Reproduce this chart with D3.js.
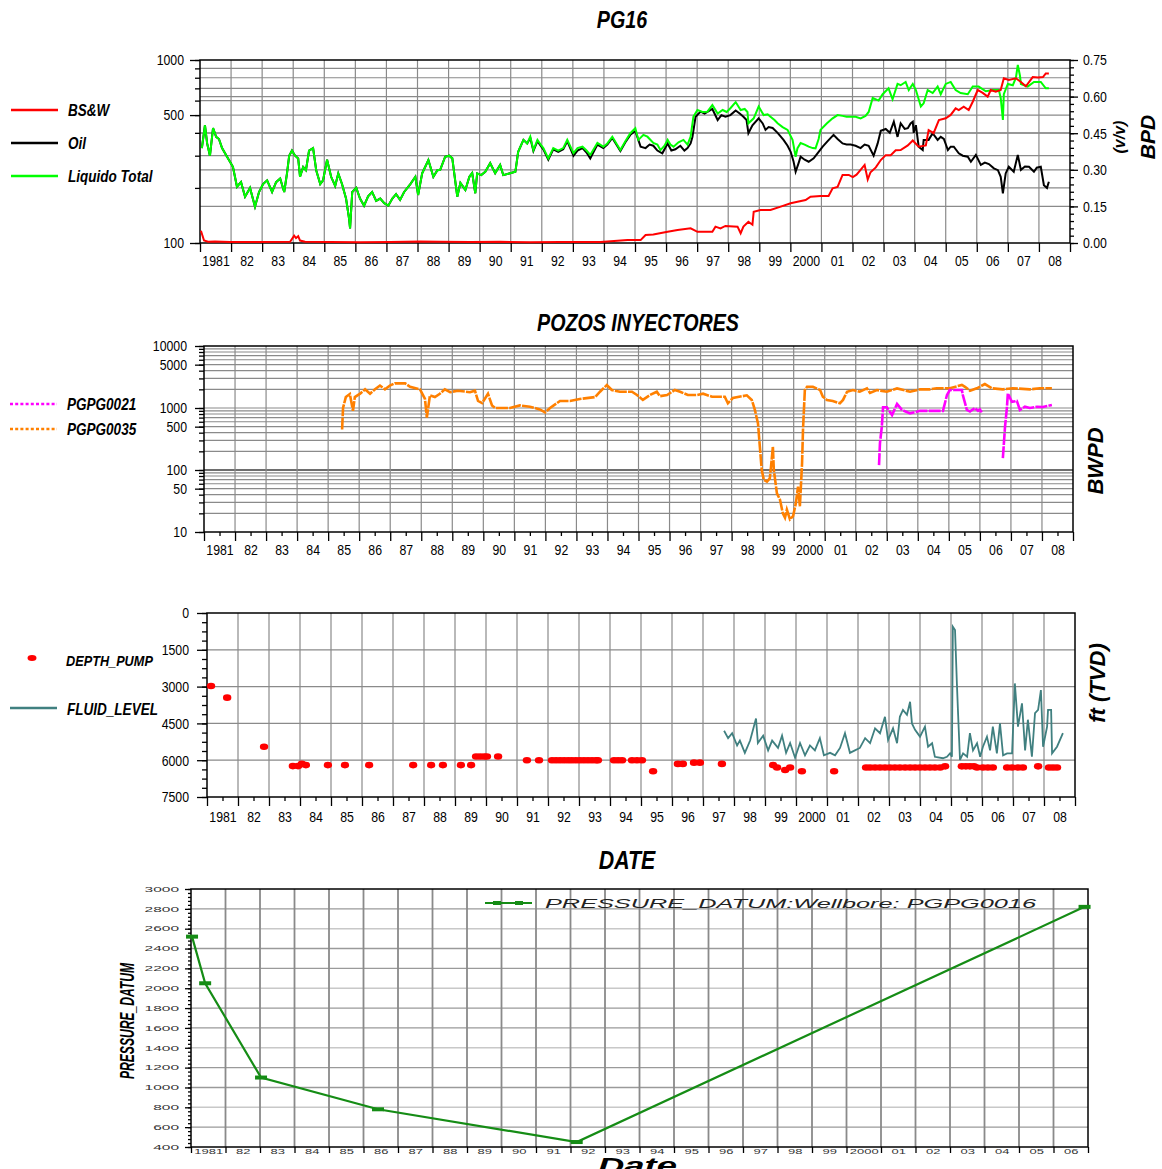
<!DOCTYPE html>
<html><head><meta charset="utf-8">
<script src="https://cdn.jsdelivr.net/npm/d3@7"></script>
<style>body{margin:0;background:#fff}svg{display:block}</style>
</head><body>
<svg id="chart" width="1162" height="1169"></svg>
<script>
// ---------- PG16 production (BPD, log) and water cut (v/v) ----------
const liquidoTotal = [
[1981.06,330],[1981.16,440],[1981.23,350],[1981.32,300],[1981.42,425],[1981.52,380],[1981.61,370],[1981.71,330],[1981.87,296],
[1982.06,261],[1982.19,203],[1982.32,215],[1982.45,179],[1982.61,200],[1982.77,158],[1982.90,190],[1983.03,210],[1983.16,220],
[1983.32,190],[1983.45,215],[1983.58,225],[1983.71,190],[1983.80,240],[1983.87,300],[1983.96,320],[1984.06,300],[1984.16,290],
[1984.22,230],[1984.32,260],[1984.41,250],[1984.51,320],[1984.64,330],[1984.74,250],[1984.87,210],[1984.96,220],[1985.09,285],
[1985.22,230],[1985.35,205],[1985.45,240],[1985.57,210],[1985.70,175],[1985.80,135],[1985.83,120],[1985.90,190],[1986.03,200],
[1986.15,175],[1986.28,160],[1986.41,180],[1986.54,190],[1986.67,170],[1986.80,175],[1986.93,165],[1987.06,160],[1987.19,175],
[1987.31,185],[1987.44,172],[1987.57,190],[1987.77,210],[1987.93,230],[1988.02,183],[1988.15,240],[1988.25,261],[1988.35,284],
[1988.51,230],[1988.64,250],[1988.73,251],[1988.89,296],[1989.02,300],[1989.12,290],[1989.28,179],[1989.38,213],[1989.54,195],
[1989.67,230],[1989.76,241],[1989.86,187],[1989.92,240],[1990.05,235],[1990.18,245],[1990.34,273],[1990.50,241],[1990.66,267],
[1990.76,235],[1990.95,240],[1991.15,245],[1991.24,315],[1991.41,366],[1991.53,350],[1991.63,381],[1991.73,322],[1991.86,366],
[1991.99,340],[1992.05,330],[1992.21,290],[1992.37,330],[1992.53,320],[1992.69,330],[1992.82,366],[1993.02,310],[1993.15,330],
[1993.31,336],[1993.44,320],[1993.56,303],[1993.79,352],[1993.98,336],[1994.11,350],[1994.27,381],[1994.40,350],[1994.53,322],
[1994.69,360],[1994.85,398],[1995.01,424],[1995.11,366],[1995.27,390],[1995.40,381],[1995.59,352],[1995.72,345],[1995.82,322],
[1995.95,340],[1996.05,366],[1996.14,345],[1996.24,336],[1996.40,355],[1996.56,366],[1996.69,345],[1996.79,381],[1996.88,490],
[1997.01,533],[1997.17,520],[1997.33,522],[1997.49,567],[1997.66,510],[1997.82,533],[1997.95,520],[1998.07,545],[1998.24,589],
[1998.40,533],[1998.53,540],[1998.62,520],[1998.65,451],[1998.82,480],[1998.98,557],[1999.14,500],[1999.27,505],[1999.36,490],
[1999.49,470],[1999.59,451],[1999.75,430],[1999.91,415],[2000.07,366],[2000.17,296],[2000.23,330],[2000.33,352],[2000.46,345],
[2000.59,336],[2000.72,330],[2000.81,329],[2000.91,370],[2000.97,415],[2001.17,450],[2001.36,480],[2001.52,500],[2001.68,495],
[2001.81,490],[2001.94,490],[2002.10,490],[2002.26,480],[2002.42,495],[2002.52,520],[2002.65,620],[2002.84,600],[2002.97,650],
[2003.16,700],[2003.29,610],[2003.45,740],[2003.55,728],[2003.71,759],[2003.81,685],[2003.94,740],[2004.04,685],[2004.20,557],
[2004.29,580],[2004.42,685],[2004.58,660],[2004.74,716],[2004.84,650],[2005.00,740],[2005.16,759],[2005.32,685],[2005.48,660],
[2005.71,650],[2005.87,716],[2006.06,716],[2006.29,675],[2006.52,685],[2006.71,685],[2006.77,620],[2006.84,470],[2006.87,650],
[2007.00,740],[2007.16,728],[2007.26,800],[2007.32,939],[2007.39,820],[2007.42,740],[2007.64,716],[2007.84,759],[2008.06,759],
[2008.22,700],[2008.32,700]];

const oil = [
[1981.06,330],[1981.16,440],[1981.23,350],[1981.32,300],[1981.42,425],[1981.52,380],[1981.61,370],[1981.71,330],[1981.87,296],
[1982.06,261],[1982.19,203],[1982.32,215],[1982.45,179],[1982.61,200],[1982.77,158],[1982.90,190],[1983.03,210],[1983.16,220],
[1983.32,190],[1983.45,215],[1983.58,225],[1983.71,190],[1983.80,240],[1983.87,300],[1983.96,320],[1984.06,300],[1984.16,290],
[1984.22,230],[1984.32,260],[1984.41,250],[1984.51,320],[1984.64,330],[1984.74,250],[1984.87,210],[1984.96,220],[1985.09,285],
[1985.22,230],[1985.35,205],[1985.45,240],[1985.57,210],[1985.70,175],[1985.80,135],[1985.83,120],[1985.90,190],[1986.03,200],
[1986.15,175],[1986.28,160],[1986.41,180],[1986.54,190],[1986.67,170],[1986.80,175],[1986.93,165],[1987.06,160],[1987.19,175],
[1987.31,185],[1987.44,172],[1987.57,190],[1987.77,210],[1987.93,230],[1988.02,183],[1988.15,240],[1988.25,261],[1988.35,284],
[1988.51,230],[1988.64,250],[1988.73,251],[1988.89,296],[1989.02,300],[1989.12,290],[1989.28,179],[1989.38,213],[1989.54,195],
[1989.67,230],[1989.76,241],[1989.86,187],[1989.92,240],[1990.05,235],[1990.18,245],[1990.34,273],[1990.50,241],[1990.66,267],
[1990.76,235],[1990.95,240],[1991.15,245],[1991.24,315],[1991.41,366],[1991.53,350],[1991.63,375],[1991.73,318],[1991.86,360],
[1991.99,335],[1992.05,325],[1992.21,285],[1992.37,325],[1992.53,315],[1992.69,325],[1992.82,360],[1993.02,300],[1993.15,320],
[1993.31,330],[1993.44,312],[1993.56,290],[1993.79,345],[1993.98,330],[1994.11,345],[1994.27,375],[1994.40,345],[1994.53,318],
[1994.69,355],[1994.85,390],[1995.01,410],[1995.18,336],[1995.34,330],[1995.47,345],[1995.59,340],[1995.72,320],[1995.88,309],
[1996.05,350],[1996.17,320],[1996.30,325],[1996.46,340],[1996.59,320],[1996.69,330],[1996.79,350],[1996.85,381],[1996.95,490],
[1997.11,522],[1997.24,510],[1997.37,525],[1997.49,540],[1997.66,470],[1997.78,500],[1997.91,490],[1998.07,500],[1998.24,530],
[1998.37,510],[1998.49,490],[1998.59,470],[1998.65,398],[1998.78,440],[1998.98,480],[1999.11,450],[1999.20,415],[1999.30,430],
[1999.43,425],[1999.59,400],[1999.78,366],[1999.91,340],[2000.01,315],[2000.10,280],[2000.17,245],[2000.27,275],[2000.33,296],
[2000.46,285],[2000.59,278],[2000.75,290],[2000.88,310],[2001.04,336],[2001.20,360],[2001.39,390],[2001.52,370],[2001.68,350],
[2001.81,345],[2001.94,345],[2002.10,340],[2002.26,330],[2002.39,345],[2002.52,340],[2002.68,300],[2002.81,350],[2002.91,410],
[2003.07,420],[2003.20,400],[2003.33,460],[2003.45,380],[2003.55,451],[2003.68,420],[2003.78,424],[2003.87,450],[2003.94,460],
[2003.97,400],[2004.04,440],[2004.13,336],[2004.26,322],[2004.29,366],[2004.45,366],[2004.58,398],[2004.74,366],[2004.84,380],
[2004.94,370],[2005.07,322],[2005.16,336],[2005.26,336],[2005.42,309],[2005.55,300],[2005.71,296],[2005.81,278],[2005.97,303],
[2006.13,267],[2006.26,275],[2006.39,270],[2006.55,256],[2006.68,250],[2006.77,230],[2006.84,187],[2006.93,240],[2007.03,261],
[2007.19,245],[2007.32,303],[2007.42,251],[2007.55,262],[2007.68,261],[2007.84,245],[2007.93,258],[2008.06,261],[2008.16,207],
[2008.26,200],[2008.32,216]];

const bsw = [
[1981.03,0.050],[1981.13,0.010],[1981.26,0.005],[1981.48,0.006],[1981.97,0.004],[1982.93,0.004],[1983.90,0.005],[1984.03,0.030],
[1984.09,0.020],[1984.16,0.028],[1984.22,0.010],[1984.38,0.005],[1985.19,0.004],[1986.15,0.003],[1987.12,0.004],[1988.09,0.006],
[1988.73,0.005],[1989.70,0.004],[1990.66,0.005],[1991.63,0.003],[1992.60,0.004],[1993.89,0.004],[1994.76,0.012],[1995.18,0.012],
[1995.34,0.033],[1995.59,0.035],[1996.05,0.046],[1996.37,0.053],[1996.79,0.060],[1997.01,0.046],[1997.49,0.046],[1997.59,0.067],
[1997.75,0.060],[1997.91,0.070],[1998.30,0.067],[1998.40,0.040],[1998.49,0.067],[1998.65,0.087],[1998.78,0.075],[1998.82,0.128],
[1999.04,0.135],[1999.36,0.135],[1999.69,0.149],[2000.01,0.163],[2000.23,0.169],[2000.49,0.176],[2000.65,0.190],[2000.97,0.193],
[2001.23,0.193],[2001.36,0.224],[2001.52,0.230],[2001.68,0.279],[2001.88,0.279],[2002.01,0.270],[2002.13,0.280],[2002.26,0.300],
[2002.39,0.320],[2002.49,0.260],[2002.58,0.290],[2002.75,0.310],[2002.91,0.340],[2003.07,0.360],[2003.23,0.360],[2003.39,0.380],
[2003.55,0.381],[2003.78,0.400],[2003.94,0.420],[2004.13,0.395],[2004.36,0.400],[2004.45,0.463],[2004.61,0.450],[2004.78,0.504],
[2005.00,0.511],[2005.16,0.525],[2005.32,0.552],[2005.42,0.545],[2005.58,0.559],[2005.74,0.545],[2005.87,0.579],[2006.03,0.627],
[2006.19,0.615],[2006.35,0.600],[2006.45,0.627],[2006.61,0.620],[2006.77,0.627],[2006.87,0.675],[2007.03,0.668],[2007.26,0.675],
[2007.42,0.660],[2007.58,0.642],[2007.80,0.680],[2007.97,0.678],[2008.13,0.680],[2008.22,0.695],[2008.32,0.695]];

// ---------- Injector wells (BWPD, log) ----------
const pgpg0035 = [
[1985.45,450],[1985.48,1000],[1985.57,1500],[1985.70,1680],[1985.80,900],[1985.86,1500],[1986.03,1700],[1986.19,2000],[1986.35,1700],
[1986.51,2000],[1986.67,2300],[1986.83,2000],[1986.99,2300],[1987.15,2500],[1987.48,2500],[1987.64,2200],[1987.96,2000],[1988.12,1400],
[1988.18,700],[1988.28,1600],[1988.44,1500],[1988.60,1700],[1988.76,2000],[1988.93,1800],[1989.18,1900],[1989.57,1800],[1989.73,1900],
[1989.83,1300],[1989.96,1200],[1990.15,1700],[1990.28,1100],[1990.38,1000],[1990.86,1000],[1991.18,1100],[1991.50,1050],[1991.82,950],
[1991.99,850],[1992.15,1000],[1992.47,1300],[1992.79,1300],[1993.11,1400],[1993.60,1500],[1993.76,1830],[1993.98,2350],[1994.14,1950],
[1994.40,1830],[1994.79,1830],[1994.95,1620],[1995.14,1350],[1995.37,1620],[1995.59,1830],[1995.69,1550],[1995.92,1620],[1996.17,1950],
[1996.34,1830],[1996.59,1620],[1996.88,1620],[1997.08,1700],[1997.37,1520],[1997.78,1520],[1997.88,1190],[1998.04,1450],[1998.49,1600],
[1998.65,1350],[1998.75,930],[1998.85,565],[1998.91,238],[1998.97,100],[1999.04,69],[1999.14,65],[1999.23,73],[1999.27,113],
[1999.33,238],[1999.36,100],[1999.46,42],[1999.56,33],[1999.65,20],[1999.72,17],[1999.78,23],[1999.88,16],[1999.98,18],
[2000.07,29],[2000.14,54],[2000.20,26],[2000.27,128],[2000.30,442],[2000.36,1950],[2000.43,2200],[2000.62,2200],[2000.85,1950],
[2000.94,1520],[2001.07,1350],[2001.26,1300],[2001.49,1190],[2001.59,1350],[2001.72,1830],[2001.91,1950],[2002.13,1830],[2002.36,2070],
[2002.46,1750],[2002.68,1950],[2003.00,1830],[2003.33,2070],[2003.75,1830],[2004.07,2000],[2004.39,2000],[2004.61,2080],[2005.03,2080],
[2005.42,2350],[2005.52,2200],[2005.68,1900],[2005.90,2080],[2006.16,2430],[2006.39,2080],[2006.74,2000],[2007.06,2080],[2007.61,2000],
[2007.93,2080],[2008.32,2080]];

const pgpg0021 = [
[2002.75,120],[2002.78,272],[2002.84,500],[2002.88,1030],[2003.00,1030],[2003.17,770],[2003.33,1160],[2003.49,930],[2003.75,820],
[2004.07,900],[2004.39,900],[2004.81,900],[2004.94,1620],[2005.03,1950],[2005.42,1950],[2005.45,1620],[2005.58,930],[2005.68,880],
[2005.84,1000],[2005.94,900],[2006.00,950],[2006.06,850],null,
[2006.74,155],[2006.81,500],[2006.87,1000],[2006.90,1720],[2007.03,1260],[2007.19,1300],[2007.29,930],[2007.45,1050],[2007.61,1000],
[2007.84,1050],[2008.03,1040],[2008.32,1120]];

// ---------- Pump depth and fluid level (ft TVD) ----------
const depthPump = [
[1981.13,2975],[1981.65,3450],[1982.84,5450],[1983.77,6240],[1983.94,6240],[1984.06,6150],[1984.19,6200],[1984.90,6200],[1985.45,6200],
[1986.23,6200],[1987.65,6200],[1988.23,6200],[1988.61,6200],[1989.19,6200],[1989.52,6200],[1989.68,5850],[1989.81,5850],[1989.94,5850],
[1990.03,5850],[1990.39,5850],[1991.32,6000],[1991.71,6000],[1992.13,6000],[1992.26,6000],[1992.39,6000],[1992.52,6000],[1992.65,6000],
[1992.77,6000],[1992.90,6000],[1993.03,6000],[1993.16,6000],[1993.29,6000],[1993.42,6000],[1993.55,6000],[1993.61,6000],[1994.13,6000],
[1994.26,6000],[1994.39,6000],[1994.71,6000],[1994.87,6000],[1995.03,6000],[1995.39,6450],[1996.19,6150],[1996.35,6150],[1996.71,6100],
[1996.90,6100],[1997.61,6150],[1999.26,6200],[1999.39,6300],[1999.65,6400],[1999.81,6300],[2000.19,6450],[2001.23,6450],[2002.26,6300],
[2002.39,6300],[2002.55,6300],[2002.71,6300],[2002.87,6300],[2003.03,6300],[2003.19,6300],[2003.35,6300],[2003.52,6300],[2003.68,6300],
[2003.84,6300],[2004.00,6300],[2004.16,6300],[2004.32,6300],[2004.48,6300],[2004.65,6300],[2004.81,6250],[2005.35,6250],[2005.48,6250],
[2005.61,6250],[2005.74,6250],[2005.84,6300],[2006.03,6300],[2006.19,6300],[2006.35,6300],[2006.81,6300],[2006.97,6300],[2007.16,6300],
[2007.32,6300],[2007.81,6250],[2008.16,6300],[2008.29,6300],[2008.42,6300]];

const fluidLevel = [
[1997.68,4800],[1997.81,5100],[1997.94,4900],[1998.10,5400],[1998.19,5200],[1998.35,5700],[1998.52,5200],[1998.71,4300],[1998.77,5300],
[1998.94,5000],[1999.10,5600],[1999.23,5200],[1999.42,5500],[1999.55,5000],[1999.68,5700],[1999.81,5300],[1999.97,5900],[2000.13,5300],
[2000.29,5800],[2000.45,5400],[2000.61,5600],[2000.77,5100],[2000.90,5800],[2001.10,5700],[2001.26,5800],[2001.42,5500],[2001.58,4900],
[2001.74,5700],[2001.90,5600],[2002.06,5500],[2002.23,5100],[2002.39,5300],[2002.55,4700],[2002.71,4900],[2002.87,4230],[2002.97,5180],
[2003.13,4700],[2003.26,5310],[2003.35,4230],[2003.45,3950],[2003.58,4150],[2003.68,3620],[2003.74,4500],[2003.84,4760],[2004.00,5040],
[2004.16,4630],[2004.26,5450],[2004.39,5310],[2004.48,5860],[2004.74,5920],[2004.87,5860],[2004.97,5720],[2005.03,5860],[2005.06,560],
[2005.13,690],[2005.19,2870],[2005.23,4160],[2005.29,5990],[2005.39,5720],[2005.52,5860],[2005.61,4900],[2005.71,5600],[2005.84,5310],
[2005.94,5860],[2006.03,5450],[2006.16,5040],[2006.26,5600],[2006.35,4630],[2006.48,5720],[2006.58,4500],[2006.68,5800],[2006.81,5720],
[2006.97,5720],[2007.06,2870],[2007.16,4630],[2007.29,3680],[2007.39,5600],[2007.48,4350],[2007.61,5860],[2007.71,4080],[2007.81,3950],
[2007.90,3140],[2007.97,5450],[2008.10,4630],[2008.13,3950],[2008.23,3950],[2008.26,5720],[2008.42,5450],[2008.61,4900]];

// ---------- Pressure datum, well PGPG0016 ----------
const pressureDatum = [[1981.03,2520],[1981.41,2050],[1983.03,1100],[1986.42,780],[1992.18,450],[2006.90,2820]];

const prodTicksLeft = [100, 500, 1000];
const wcTicks = [0, 0.15, 0.30, 0.45, 0.60, 0.75];
const injTicks = [10, 50, 100, 500, 1000, 5000, 10000];
const depthTicks = [0, 1500, 3000, 4500, 6000, 7500];
const presTicks = d3.range(400, 3001, 200);
const years = d3.range(1981, 2009);
const presYears = d3.range(1981, 2007);

// ---------- drawing ----------
const svg = d3.select("#chart");
const ARIAL = "'Liberation Sans',Arial,Helvetica,sans-serif";
const GRID = "#8a8a8a";
const NARROW_FACTOR = 0.82;   // condensed look, squeezed from the Arial metrics

const yearText = y => y === 1981 ? "1981" : y === 2000 ? "2000" : String(y % 100).padStart(2, "0");

function hLine(g, x0, x1, y, color, w) {
  g.append("line").attr("x1", x0).attr("x2", x1).attr("y1", y).attr("y2", y)
    .attr("stroke", color).attr("stroke-width", w);
}
function vLine(g, x, y0, y1, color, w) {
  g.append("line").attr("x1", x).attr("x2", x).attr("y1", y0).attr("y2", y1)
    .attr("stroke", color).attr("stroke-width", w);
}
function styleAxis(sel, size, narrow) {
  sel.select(".domain").remove();
  sel.attr("font-family", ARIAL).attr("font-size", size);
  sel.selectAll("line").attr("stroke", "#000").attr("stroke-width", 1.3);
  sel.selectAll("text").attr("fill", "#000").classed("nar", narrow !== false);
}
function frame(g, x0, x1, y0, y1) {
  g.append("rect").attr("x", x0).attr("y", y0).attr("width", x1 - x0).attr("height", y1 - y0)
    .attr("fill", "none").attr("stroke", "#000").attr("stroke-width", 1.5);
}
function yearAxis(g, x, y, yrs, labelPad, midTicks) {
  const bounds = d3.range(yrs[0], yrs[yrs.length - 1] + 2);
  g.append("g").attr("transform", `translate(0,${y})`)
    .call(d3.axisBottom(x).tickValues(bounds).tickSize(9).tickFormat(""))
    .call(s => styleAxis(s, 15));
  if (midTicks) {
    g.append("g").attr("transform", `translate(0,${y})`)
      .call(d3.axisBottom(x).tickValues(yrs.map(v => v + 0.5)).tickSize(4).tickFormat(""))
      .call(s => styleAxis(s, 15));
  }
  g.append("g").attr("transform", `translate(0,${y})`)
    .call(d3.axisBottom(x).tickValues(yrs.map(v => v + 0.5)).tickSize(0).tickPadding(labelPad)
      .tickFormat(d => yearText(Math.floor(d))))
    .call(s => styleAxis(s, 15));
}
function title(txt, cx, cy, size) {
  svg.append("text").attr("class", "nar").attr("x", cx).attr("y", cy).attr("text-anchor", "middle")
    .attr("dominant-baseline", "central").attr("font-family", ARIAL).attr("font-size", size)
    .attr("font-weight", "bold").attr("font-style", "italic").text(txt);
}
function vTitle(txt, cx, cy, size) {
  svg.append("text").attr("transform", `translate(${cx},${cy}) rotate(-90)`)
    .attr("text-anchor", "middle").attr("dominant-baseline", "central")
    .attr("font-family", ARIAL).attr("font-size", size)
    .attr("font-weight", "bold").attr("font-style", "italic").text(txt);
}
function legendText(txt, x, y, size) {
  svg.append("text").attr("class", "nar").attr("x", x).attr("y", y).attr("dominant-baseline", "central")
    .attr("font-family", ARIAL).attr("font-size", size || 16.5).attr("font-weight", "bold")
    .attr("font-style", "italic").text(txt);
}

// ===== Panel 1: PG16 =====
{
  const P = {x0: 200, x1: 1070, y0: 60, y1: 243};
  const g = svg.append("g");
  const x = d3.scaleLinear().domain([1981, 2009]).range([P.x0, P.x1]);
  const yL = d3.scaleLog().domain([100, 1000]).range([P.y1, P.y0]);
  const yR = d3.scaleLinear().domain([0, 0.75]).range([P.y1, P.y0]);

  d3.range(200, 1000, 100).forEach(v => hLine(g, P.x0, P.x1, yL(v), GRID, 1.2));
  wcTicks.slice(1, -1).forEach(v => hLine(g, P.x0, P.x1, yR(v), GRID, 1.2));
  d3.range(1982, 2009).forEach(v => vLine(g, x(v), P.y0, P.y1, GRID, 1.2));

  g.append("g").attr("transform", `translate(${P.x0},0)`)
    .call(d3.axisLeft(yL).tickValues(d3.range(100, 1001, 100)).tickSize(5).tickFormat(""))
    .call(s => styleAxis(s, 15));
  g.append("g").attr("transform", `translate(${P.x0},0)`)
    .call(d3.axisLeft(yL).tickValues(prodTicksLeft).tickSize(10).tickPadding(6).tickFormat(d3.format("d")))
    .call(s => styleAxis(s, 15));
  g.append("g").attr("transform", `translate(${P.x1},0)`)
    .call(d3.axisRight(yR).tickValues(d3.range(0, 0.751, 0.03)).tickSize(4).tickFormat(""))
    .call(s => styleAxis(s, 15));
  g.append("g").attr("transform", `translate(${P.x1},0)`)
    .call(d3.axisRight(yR).tickValues(wcTicks).tickSize(8).tickPadding(5).tickFormat(d3.format(".2f")))
    .call(s => styleAxis(s, 15));
  yearAxis(g, x, P.y1, years, 12, false);
  frame(g, P.x0, P.x1, P.y0, P.y1);

  const lineL = d3.line().x(d => x(d[0])).y(d => yL(d[1]));
  const lineR = d3.line().x(d => x(d[0])).y(d => yR(d[1]));
  g.append("path").datum(oil).attr("d", lineL).attr("fill", "none").attr("stroke", "#000").attr("stroke-width", 2);
  g.append("path").datum(liquidoTotal).attr("d", lineL).attr("fill", "none").attr("stroke", "#00ff00").attr("stroke-width", 2);
  g.append("path").datum(bsw).attr("d", lineR).attr("fill", "none").attr("stroke", "#ff0000").attr("stroke-width", 2);

  title("PG16", 622, 19, 24);
  vTitle("BPD", 1147, 137, 21);
  vTitle("(v/v)", 1119, 137, 16);

  [["BS&W", "#ff0000", 110], ["Oil", "#000", 143], ["Liquido Total", "#00ff00", 176]].forEach(([t, c, y]) => {
    hLine(svg, 11, 58, y, c, 2.5);
    legendText(t, 68, y);
  });
}

// ===== Panel 2: POZOS INYECTORES =====
{
  const P = {x0: 204, x1: 1073, y0: 346, y1: 532};
  const g = svg.append("g");
  const x = d3.scaleLinear().domain([1981, 2009]).range([P.x0, P.x1]);
  const y = d3.scaleLog().domain([10, 10000]).range([P.y1, P.y0]);
  const minor = [];
  [10, 100, 1000].forEach(b => d3.range(1, 10).forEach(k => minor.push(b * k)));
  minor.push(10000);

  minor.forEach(v => { if (v > 10 && v < 10000) hLine(g, P.x0, P.x1, y(v), v === 100 ? "#6e6e6e" : GRID, v === 100 ? 2.2 : 1.2); });
  d3.range(1982, 2009).forEach(v => vLine(g, x(v), P.y0, P.y1, GRID, 1.2));

  g.append("g").attr("transform", `translate(${P.x0},0)`)
    .call(d3.axisLeft(y).tickValues(minor).tickSize(5).tickFormat(""))
    .call(s => styleAxis(s, 15));
  g.append("g").attr("transform", `translate(${P.x0},0)`)
    .call(d3.axisLeft(y).tickValues(injTicks).tickSize(9).tickPadding(8).tickFormat(d3.format("d")))
    .call(s => styleAxis(s, 15));
  yearAxis(g, x, P.y1, years, 12, true);
  frame(g, P.x0, P.x1, P.y0, P.y1);

  const line = d3.line().defined(d => d !== null).x(d => x(d[0])).y(d => y(d[1]));
  g.append("path").datum(pgpg0035).attr("d", line).attr("fill", "none").attr("stroke", "#ff8000")
    .attr("stroke-width", 2.6).attr("stroke-dasharray", "12,1.2");
  g.append("path").datum(pgpg0021).attr("d", line).attr("fill", "none").attr("stroke", "#ff00ff")
    .attr("stroke-width", 2.6).attr("stroke-dasharray", "12,1.2");

  title("POZOS INYECTORES", 638, 322, 24);
  vTitle("BWPD", 1095, 461, 22);
  [["PGPG0021", "#ff00ff", 404], ["PGPG0035", "#ff8000", 429]].forEach(([t, c, yy]) => {
    svg.append("line").attr("x1", 10).attr("x2", 57).attr("y1", yy).attr("y2", yy)
      .attr("stroke", c).attr("stroke-width", 2.6).attr("stroke-dasharray", "3,2.2");
    legendText(t, 67, yy);
  });
}

// ===== Panel 3: pump depth / fluid level =====
{
  const P = {x0: 207, x1: 1075, y0: 613, y1: 797};
  const g = svg.append("g");
  const x = d3.scaleLinear().domain([1981, 2009]).range([P.x0, P.x1]);
  const y = d3.scaleLinear().domain([0, 7500]).range([P.y0, P.y1]);

  depthTicks.slice(1, -1).forEach(v => hLine(g, P.x0, P.x1, y(v), GRID, 1.2));
  d3.range(1982, 2009).forEach(v => vLine(g, x(v), P.y0, P.y1, GRID, 1.2));

  g.append("g").attr("transform", `translate(${P.x0},0)`)
    .call(d3.axisLeft(y).tickValues(d3.range(0, 7501, 375)).tickSize(5).tickFormat(""))
    .call(s => styleAxis(s, 15));
  g.append("g").attr("transform", `translate(${P.x0},0)`)
    .call(d3.axisLeft(y).tickValues(depthTicks).tickSize(10).tickPadding(8).tickFormat(d3.format("d")))
    .call(s => styleAxis(s, 15));
  yearAxis(g, x, P.y1, years, 14, true);
  frame(g, P.x0, P.x1, P.y0, P.y1);

  g.append("path").datum(fluidLevel)
    .attr("d", d3.line().x(d => x(d[0])).y(d => y(d[1])))
    .attr("fill", "none").attr("stroke", "#408080").attr("stroke-width", 1.8);
  g.selectAll("ellipse.dp").data(depthPump).join("ellipse").attr("class", "dp")
    .attr("cx", d => x(d[0])).attr("cy", d => y(d[1])).attr("rx", 4.2).attr("ry", 3.3).attr("fill", "#ff0000");

  vTitle("ft (TVD)", 1097, 683, 22);
  svg.append("ellipse").attr("cx", 32).attr("cy", 658).attr("rx", 4.5).attr("ry", 3).attr("fill", "#ff0000");
  legendText("DEPTH_PUMP", 66, 660, 15.5);
  hLine(svg, 10, 57, 708, "#408080", 2.5);
  legendText("FLUID_LEVEL", 67, 709);
}

title("DATE", 627, 860, 26);

// ===== Panel 4: pressure datum =====
{
  const P = {x0: 191, x1: 1088, y0: 889, y1: 1147};
  const g = svg.append("g");
  const x = d3.scaleLinear().domain([1981, 2007]).range([P.x0, P.x1]);
  const y = d3.scaleLinear().domain([400, 3000]).range([P.y1, P.y0]);
  const pale = new Set([2600, 2000, 1400, 800]);

  presTicks.slice(1, -1).forEach(v => hLine(g, P.x0, P.x1, y(v), pale.has(v) ? "#c8c8c8" : "#9a9a9a", 1.4));
  d3.range(1982, 2007).forEach(v => vLine(g, x(v), P.y0, P.y1, "#8a8a8a", 1.8));

  const ax = g.append("g").attr("transform", `translate(${P.x0},0)`)
    .call(d3.axisLeft(y).tickValues(d3.range(400, 3001, 40)).tickSize(3).tickFormat(""));
  styleAxis(ax, 7, false);
  const axM = g.append("g").attr("transform", `translate(${P.x0},0)`)
    .call(d3.axisLeft(y).tickValues(presTicks).tickSize(6).tickPadding(6).tickFormat(d3.format("d")));
  styleAxis(axM, 7, false);
  axM.selectAll("text").attr("fill", "#333").each(function(d) {
    d3.select(this).attr("textLength", String(d).length * 8.6).attr("lengthAdjust", "spacingAndGlyphs");
  });

  const bx = g.append("g").attr("transform", `translate(0,${P.y1})`)
    .call(d3.axisBottom(x).tickValues(d3.range(1981, 2008)).tickSize(6).tickFormat(""));
  styleAxis(bx, 7, false);
  const bl = g.append("g").attr("transform", `translate(0,${P.y1})`)
    .call(d3.axisBottom(x).tickValues(presYears.map(v => v + 0.5)).tickSize(0).tickPadding(2)
      .tickFormat(d => yearText(Math.floor(d))));
  styleAxis(bl, 7, false);
  bl.selectAll("text").attr("fill", "#333").each(function(d) {
    d3.select(this).attr("textLength", yearText(Math.floor(d)).length * 7.2).attr("lengthAdjust", "spacingAndGlyphs");
  });
  frame(g, P.x0, P.x1, P.y0, P.y1);

  g.append("path").datum(pressureDatum)
    .attr("d", d3.line().x(d => x(d[0])).y(d => y(d[1])))
    .attr("fill", "none").attr("stroke", "#158c15").attr("stroke-width", 2.2);
  g.selectAll("rect.pm").data(pressureDatum).join("rect").attr("class", "pm")
    .attr("x", d => x(d[0]) - 6).attr("y", d => y(d[1]) - 2).attr("width", 12).attr("height", 4)
    .attr("fill", "#158c15");

  hLine(svg, 485, 532, 903, "#158c15", 2);
  [497, 519].forEach(mx => svg.append("rect").attr("x", mx - 4).attr("y", 901).attr("width", 8)
    .attr("height", 4).attr("fill", "#158c15"));
  svg.append("text").attr("x", 545).attr("y", 908).attr("font-family", ARIAL).attr("font-size", 12)
    .attr("font-style", "italic").attr("fill", "#222").attr("textLength", 491)
    .attr("lengthAdjust", "spacingAndGlyphs").text("PRESSURE_DATUM:Wellbore: PGPG0016");

  svg.append("text").attr("transform", "translate(134,1021) rotate(-90)").attr("text-anchor", "middle")
    .attr("font-family", ARIAL).attr("font-size", 21).attr("font-style", "italic").attr("font-weight", "bold")
    .attr("textLength", 116).attr("lengthAdjust", "spacingAndGlyphs").text("PRESSURE_DATUM");
  svg.append("text").attr("x", 598).attr("y", 1173).attr("font-family", ARIAL).attr("font-size", 22)
    .attr("font-style", "italic").attr("font-weight", "bold").attr("textLength", 79)
    .attr("lengthAdjust", "spacingAndGlyphs").text("Date");
}

// condensed type: squeeze the marked texts horizontally
svg.selectAll("text.nar").each(function() {
  const w = this.getComputedTextLength();
  this.setAttribute("textLength", (w * NARROW_FACTOR).toFixed(2));
  this.setAttribute("lengthAdjust", "spacingAndGlyphs");
});
</script>
</body></html>
